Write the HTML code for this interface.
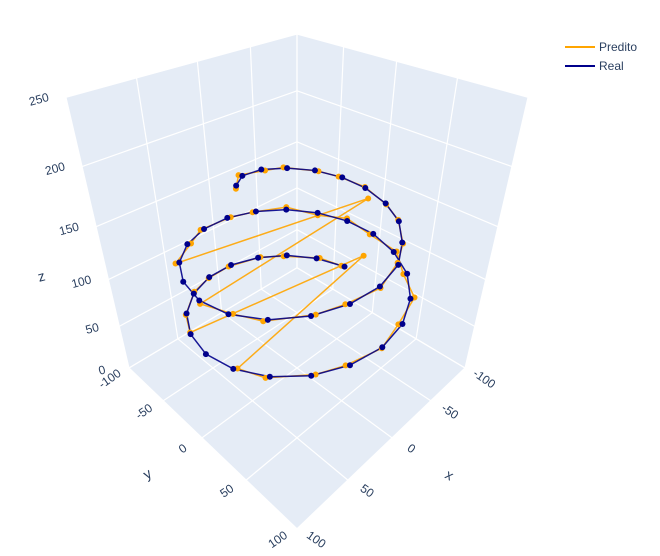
<!DOCTYPE html>
<html><head><meta charset="utf-8"><style>
html,body{margin:0;padding:0;background:#fff}
svg text{font-family:"Liberation Sans",sans-serif;fill:#2a3f5f}
</style></head><body>
<svg id="chart" width="660" height="551" viewBox="0 0 660 551" xmlns="http://www.w3.org/2000/svg">
<g id="panes"></g>
<g id="grid"></g>
<g id="ticks"></g>
<g id="data"></g>
<text x="38" y="282" font-size="14" transform="rotate(-15 38 277)">z</text>
<text x="143" y="478" font-size="14" transform="rotate(-30 148 472)">y</text>
<text x="446" y="480" font-size="14" transform="rotate(30 450 475)">x</text>
<g>
<g><line x1="565" y1="47" x2="595" y2="47" stroke="#FFA500" stroke-width="2"/><text x="599" y="51" font-size="12">Predito</text></g>
<g><line x1="565" y1="66" x2="595" y2="66" stroke="#00008B" stroke-width="2"/><text x="599" y="70" font-size="12">Real</text></g>
</g>
</svg>
<script>
const realX=[-82,-71,-53,-30,-4,22,46,66,79,85,82,71,53,30,4,-22,-46,-66,-79,-85,-82,-71,-53,-30,-4,22,46,66,79,85,82,70,51,28,4,-20,-40,-57,-67,-71,-68,-58,-42,-23,-3,13];
const realY=[-22,-46,-66,-79,-85,-82,-71,-53,-30,-4,22,46,66,79,85,82,71,53,30,4,-22,-46,-66,-79,-85,-82,-71,-53,-30,-4,22,45,63,74,78,74,62,46,26,3,-18,-38,-53,-62,-61,-49];
const realZ=[55,57.6,60.1,62.7,65.2,67.8,70.3,72.9,75.4,78,80.6,83.1,85.7,88.2,90.8,93.3,95.9,98.4,101,103.6,106.1,108.7,111.2,113.8,116.3,118.9,121.4,124,126.6,129.1,131.7,134.2,136.8,139.3,141.9,144.4,147,149.6,152.1,154.7,157.2,159.8,162.3,164.9,167.4,170];
const predX=[-80,-73,-51,-31,-2,24,44,68,78,-40,80,73,51,32,6,-20,-48,-64,-80,-83,-84,-69,-55,-28,-6,24,44,68,-40,86,80,72,49,30,6,-22,-38,-59,-65,-73,-66,-60,-40,-25,-1,15];
const predY=[-24,-44,-68,-77,-86,-80,-73,-51,-32,30,24,44,68,77,86,80,73,51,32,2,-24,-44,-68,-81,-83,-84,-69,-55,30,-2,24,43,65,72,80,72,64,44,28,1,-20,-36,-55,-60,-63,-47];
const predZ=[56,58,59,64,64,69,70,74,75,118,81,82,87,88,92,93,97,98,102,103,107,108,112,113,117,118,122,123,170,128,132,133,138,139,143,144,148,149,153,154,158,159,163,164,168,169];
const axisTicks=[-100,-50,0,50,100];
const zTicks=[0,50,100,150,200,250];
const K=2.48,A=1.175,S=591,CX=297,CY=254;
function P(x,y,z){const X=x/100,Y=y/100,Z=(z-125)/125*A;const dx=X-K,dy=Y-K,dz=Z-K;const dep=-(dx+dy+dz)/Math.sqrt(3);const u=(-dx+dy)/Math.SQRT2;const v=(-dx-dy+2*dz)/Math.sqrt(6);return[CX+S*u/dep,CY-S*v/dep];}
const NS='http://www.w3.org/2000/svg';
function mk(tag,attrs,parent){const e=document.createElementNS(NS,tag);for(const k in attrs)e.setAttribute(k,attrs[k]);parent.appendChild(e);return e;}
const panes=document.getElementById('panes'),grid=document.getElementById('grid'),ticks=document.getElementById('ticks'),data=document.getElementById('data');
function poly(pts){return pts.map(p=>p.join(',')).join(' ');}
let pf=mk('polygon',{points:poly([P(100,100,0),P(100,-100,0),P(-100,-100,0),P(-100,100,0)]),fill:'#E5ECF6'},panes);


let pl=mk('polygon',{points:poly([P(100,-100,0),P(-100,-100,0),P(-100,-100,250),P(100,-100,250)]),fill:'#E5ECF6'},panes);


let pr=mk('polygon',{points:poly([P(-100,100,0),P(-100,-100,0),P(-100,-100,250),P(-100,100,250)]),fill:'#E5ECF6'},panes);


function gl(a,b){const l=mk('line',{x1:a[0],y1:a[1],x2:b[0],y2:b[1],stroke:'#fff','stroke-width':1.2},grid);

}
axisTicks.forEach(t=>{gl(P(t,-100,0),P(t,100,0));gl(P(-100,t,0),P(100,t,0));gl(P(t,-100,0),P(t,-100,250));gl(P(-100,t,0),P(-100,t,250));});
zTicks.forEach(t=>{gl(P(100,-100,t),P(-100,-100,t));gl(P(-100,-100,t),P(-100,100,t));});
function tl(txt,p,dx,dy,rot,name){const x=p[0]+dx,y=p[1]+dy;const t=mk('text',{x:x,y:y,'font-size':12,'text-anchor':'middle',transform:`rotate(${rot} ${x} ${y})`},ticks);t.textContent=txt;

}
zTicks.forEach(t=>tl(String(t),P(100,-100,t),-26,6,-15,'z-tick-label'));
axisTicks.forEach(t=>tl(String(t),P(100,t,0),-17,14,-35,'y-tick-label'));
axisTicks.forEach(t=>tl(String(t),P(t,100,0),17,14,35,'x-tick-label'));
function trace(xs,ys,zs,color,name){const pts=xs.map((x,i)=>P(x,ys[i],zs[i]));
const pl=mk('polyline',{points:poly(pts),fill:'none',stroke:color,'stroke-width':1.5,'stroke-opacity':0.9},data);


return pts;}
const pp=trace(predX,predY,predZ,'#FFA500','predito');
const rp=trace(realX,realY,realZ,'#00008B','real');
pp.forEach(p=>{const c=mk('circle',{cx:p[0],cy:p[1],r:3,fill:'#FFA500'},data);

});
rp.forEach(p=>{const c=mk('circle',{cx:p[0],cy:p[1],r:3,fill:'#00008B'},data);

});
</script>
</body></html>
